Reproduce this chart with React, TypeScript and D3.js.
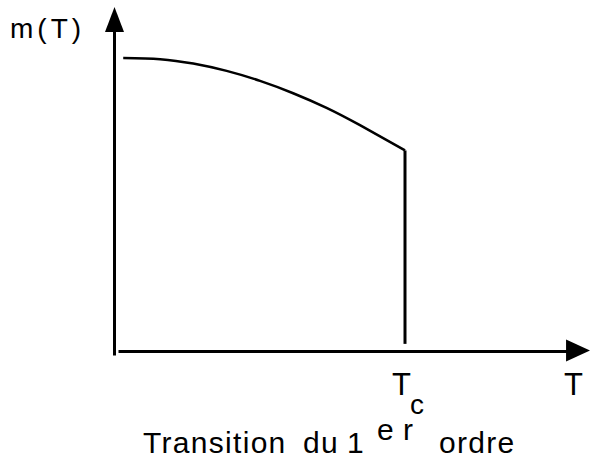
import React from "react";
import * as d3 from "d3";

// m(T) curve, T in units of Tc
const tValues = [0.03, 0.157, 0.271, 0.386, 0.501, 0.615, 0.73, 0.845, 1.0];
const mValues = [1.0, 0.996, 0.981, 0.956, 0.922, 0.88, 0.83, 0.771, 0.685];

const tc = 1.0;
const mJumpFoot = 0.026;
const tAxisEnd = 1.637;
const mAxisEnd = 1.174;
const mAxisFoot = -0.014;

const titleWords = ["Transition", "du", "1", "e", "r", "ordre"];

const W = 590;
const H = 461;
const FONT = "'Liberation Sans', Arial, Helvetica, sans-serif";

export default function App() {
  const x = d3.scaleLinear().domain([0, tc]).range([114.5, 405]);
  const y = d3.scaleLinear().domain([0, 1]).range([351.5, 58]);

  const line = d3
    .line<number>()
    .x((_, i) => x(tValues[i]))
    .y((d) => y(d))
    .curve(d3.curveNatural);

  const x0 = x(0);
  const y0 = y(0);
  const xEnd = x(tAxisEnd);
  const yTop = y(mAxisEnd);

  // arrow heads
  const upArrow = `M${x0},${yTop} L${x0 + 9.5},${yTop + 25} L${x0 - 9.5},${yTop + 25} Z`;
  const rightArrow = `M${xEnd},${y0 - 1} L${xEnd - 24},${y0 - 12} L${xEnd - 24},${y0 + 10} Z`;

  return (
    <svg
      width={W}
      height={H}
      style={{ position: "absolute", left: 0, top: 0, background: "#fff" }}
      fontFamily={FONT}
    >
      {/* axes */}
      <line x1={x0} x2={x0} y1={yTop + 20} y2={y(mAxisFoot)} stroke="#000" strokeWidth={3} />
      <path d={upArrow} fill="#000" />
      <line x1={x0 + 4} x2={xEnd - 20} y1={y0} y2={y0} stroke="#000" strokeWidth={3} />
      <path d={rightArrow} fill="#000" />

      {/* m(T) below Tc and the jump */}
      <path d={line(mValues) || ""} fill="none" stroke="#000" strokeWidth={2.5} />
      <line
        x1={x(tc)}
        x2={x(tc)}
        y1={y(mValues[mValues.length - 1])}
        y2={y(mJumpFoot)}
        stroke="#000"
        strokeWidth={3}
      />

      {/* labels */}
      <text x={10} y={38} fontSize={28} letterSpacing={4}>m(T)</text>
      <text x={392} y={395} fontSize={31}>T</text>
      <text x={410} y={414} fontSize={28}>c</text>
      <text x={564} y={395} fontSize={31}>T</text>

      <text fontSize={30} letterSpacing={1.3}>
        <tspan x={143} y={453}>{titleWords[0]}</tspan>
        <tspan x={303} y={453}>{titleWords[1]}</tspan>
        <tspan x={347} y={453}>{titleWords[2]}</tspan>
        <tspan x={377} y={440}>{titleWords[3]}</tspan>
        <tspan x={403} y={440}>{titleWords[4]}</tspan>
        <tspan x={439} y={453}>{titleWords[5]}</tspan>
      </text>
    </svg>
  );
}
